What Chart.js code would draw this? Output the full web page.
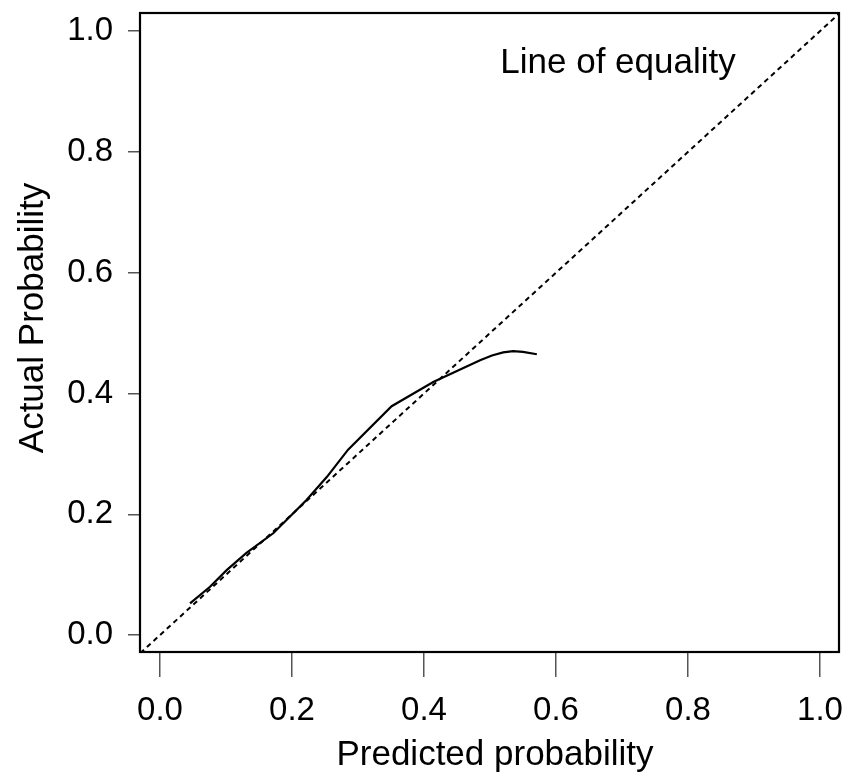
<!DOCTYPE html>
<html>
<head>
<meta charset="utf-8">
<script src="https://cdn.jsdelivr.net/npm/chart.js@4.4.1/dist/chart.umd.min.js"></script>
<style>
  html, body { margin: 0; padding: 0; background: #fff; }
  canvas { display: block; }
</style>
</head>
<body>
<canvas id="c" width="844" height="776"></canvas>
<script>
// ---- data ----
const predicted = [0.0455, 0.0758, 0.101, 0.131, 0.172, 0.222, 0.253, 0.285, 0.351, 0.414, 0.485, 0.503, 0.520, 0.535, 0.550, 0.571];
const actual    = [0.0525, 0.080, 0.1076, 0.136, 0.169, 0.2235, 0.262, 0.307, 0.379, 0.419, 0.455, 0.463, 0.468, 0.470, 0.469, 0.465];
const equalityX = [-0.05, 1.05];
const equalityY = [-0.05, 1.05];
const xTicks = [0.0, 0.2, 0.4, 0.6, 0.8, 1.0];
const yTicks = [0.0, 0.2, 0.4, 0.6, 0.8, 1.0];
const xTitle = 'Predicted probability';
const yTitle = 'Actual Probability';
const annotationText = 'Line of equality';
const annotationPos = [0.694, 0.930];

const FONT = '"Liberation Sans", Arial, Helvetica, sans-serif';

const curvePoints = predicted.map((x, i) => ({ x: x, y: actual[i] }));
const equalityPoints = equalityX.map((x, i) => ({ x: x, y: equalityY[i] }));

const zeroPad = s => { s.paddingTop = 0; s.paddingBottom = 0; s.paddingLeft = 0; s.paddingRight = 0; };

const decorPlugin = {
  id: 'decor',
  afterDraw(chart) {
    const ctx = chart.ctx;
    const a = chart.chartArea;
    const xs = chart.scales.x, ys = chart.scales.y;
    ctx.save();
    ctx.strokeStyle = '#000';
    ctx.lineWidth = 2.2;
    ctx.strokeRect(a.left, a.top, a.right - a.left, a.bottom - a.top);
    ctx.fillStyle = '#000';
    ctx.font = '35px ' + FONT;
    ctx.textAlign = 'center';
    ctx.textBaseline = 'alphabetic';
    ctx.fillText(annotationText, xs.getPixelForValue(annotationPos[0]), ys.getPixelForValue(annotationPos[1]));
    ctx.fillText(xTitle, 495, 765);
    ctx.translate(43, 318);
    ctx.rotate(-Math.PI / 2);
    ctx.fillText(yTitle, 0, 0);
    ctx.restore();
  }
};

new Chart(document.getElementById('c'), {
  type: 'line',
  data: {
    datasets: [
      {
        label: 'Line of equality',
        data: equalityPoints,
        borderColor: '#000',
        borderWidth: 2,
        borderDash: [5, 4],
        pointRadius: 0,
        fill: false,
        tension: 0
      },
      {
        label: 'Calibration',
        data: curvePoints,
        borderColor: '#000',
        borderWidth: 2.2,
        pointRadius: 0,
        fill: false,
        tension: 0
      }
    ]
  },
  options: {
    responsive: false,
    animation: false,
    events: [],
    layout: { padding: { top: 13, right: 5, left: 0, bottom: 0 } },
    plugins: { legend: { display: false }, tooltip: { enabled: false } },
    scales: {
      x: {
        type: 'linear',
        min: -0.0303,
        max: 1.0288,
        afterBuildTicks: s => { s.ticks = xTicks.map(v => ({ value: v })); },
        afterFit: s => { s.height = 124; zeroPad(s); },
        ticks: {
          color: '#000',
          font: { family: FONT, size: 33 },
          padding: 14,
          maxRotation: 0,
          autoSkip: false,
          callback: v => Number(v).toFixed(1)
        },
        grid: { drawOnChartArea: false, drawTicks: true, tickLength: 25, color: '#555', lineWidth: 1.5 },
        border: { display: false }
      },
      y: {
        type: 'linear',
        min: -0.028,
        max: 1.03,
        afterBuildTicks: s => { s.ticks = yTicks.map(v => ({ value: v })); },
        afterFit: s => { s.width = 140; zeroPad(s); },
        ticks: {
          color: '#000',
          font: { family: FONT, size: 33 },
          padding: 15,
          autoSkip: false,
          callback: v => Number(v).toFixed(1)
        },
        grid: { drawOnChartArea: false, drawTicks: true, tickLength: 12, color: '#555', lineWidth: 1.5 },
        border: { display: false }
      }
    }
  },
  plugins: [decorPlugin]
});
</script>
</body>
</html>
